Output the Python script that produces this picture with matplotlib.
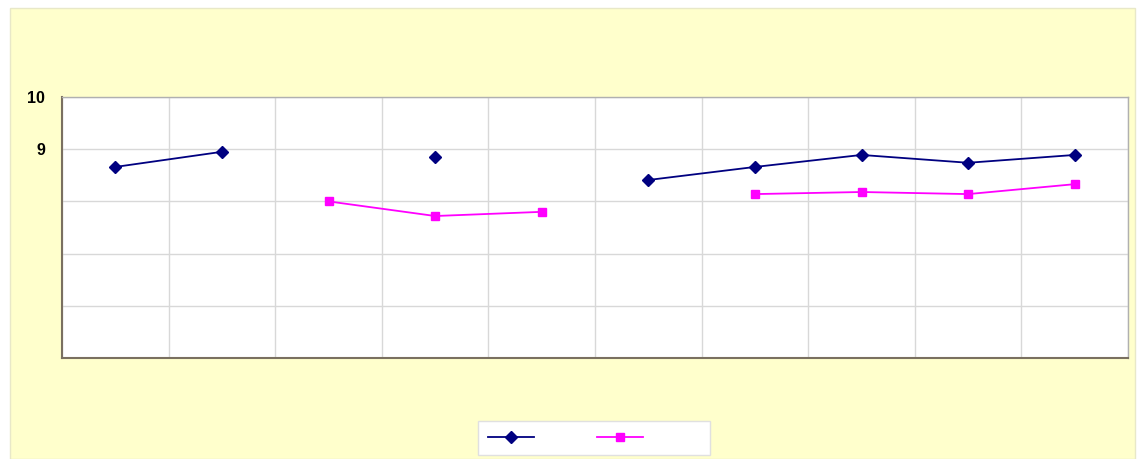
import numpy as np
import matplotlib.pyplot as plt
from matplotlib.patches import Rectangle

# Two measurement series over ten slots; NaN where no reading was taken
slots = np.arange(10)
series_a = [8.66, 8.95, np.nan, 8.85, np.nan, 8.41, 8.66, 8.89, 8.74, 8.89]
series_b = [np.nan, np.nan, 8.00, 7.72, 7.80, np.nan, 8.14, 8.18, 8.14, 8.33]
y_ticks = [9, 10]

fig = plt.figure(figsize=(11.4, 4.59), dpi=100)
fig.patch.set_facecolor("white")

# pale yellow chart area behind everything
fig.patches.append(Rectangle((10 / 1140, 0), 1125 / 1140, 451 / 459,
                             transform=fig.transFigure, facecolor="#FFFFCC",
                             edgecolor="#E8E8C8", linewidth=1, zorder=-10))

ax = fig.add_axes([62 / 1140, 1 - 358 / 459, 1066 / 1140, 261 / 459])
ax.set_facecolor("white")

ax.plot(slots, series_a, color="#000080", marker="D", markersize=6,
        linewidth=1.3, label=" " * 12)
ax.plot(slots, series_b, color="#FF00FF", marker="s", markersize=6,
        linewidth=1.3, label=" " * 12)

ax.set_xlim(-0.5, 9.5)
ax.set_ylim(5, 10)
ax.set_xticks(np.arange(-0.5, 10, 1))
ax.set_xticklabels([])
ax.set_yticks(np.arange(5, 11, 1))
ax.set_yticklabels([str(v) if v in y_ticks else "" for v in range(5, 11)],
                   fontsize=11.5, fontweight="bold", fontfamily="Liberation Sans")
ax.tick_params(axis="both", length=0, pad=12)
ax.grid(True, color="#D8D8D8", linewidth=1)
ax.set_axisbelow(True)
for side in ["left", "bottom"]:
    ax.spines[side].set_color("#7A7060")
    ax.spines[side].set_linewidth(1.5)
for side in ["top", "right"]:
    ax.spines[side].set_color("#B0B0B0")
    ax.spines[side].set_linewidth(1)

leg = fig.legend(loc="center", bbox_to_anchor=(594 / 1140, 1 - 438 / 459),
                 ncol=2, frameon=True, fancybox=False, fontsize=10,
                 handlelength=3.3, columnspacing=0.5, borderpad=0.7,
                 handletextpad=0.3, framealpha=1)
leg.get_frame().set_edgecolor("#E0E0E0")
leg.get_frame().set_facecolor("white")

fig.savefig("out.png", dpi=100)
